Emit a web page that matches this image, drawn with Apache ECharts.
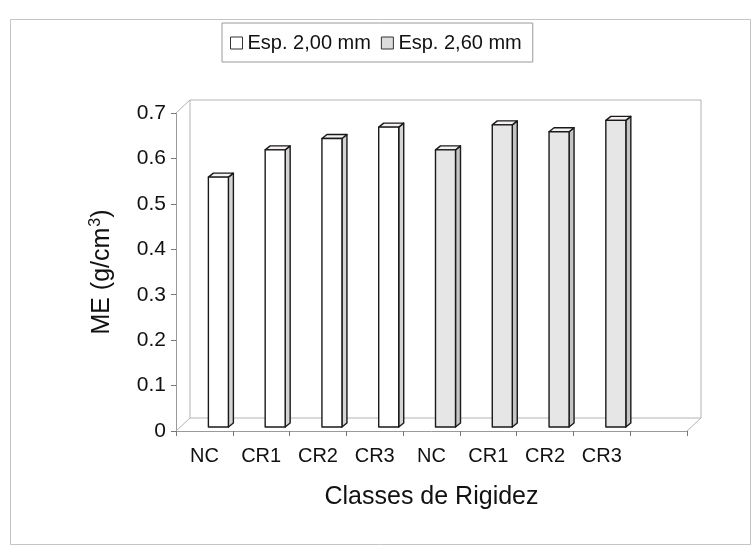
<!DOCTYPE html>
<html>
<head>
<meta charset="utf-8">
<script src="https://cdn.jsdelivr.net/npm/echarts@6/dist/echarts.min.js"></script>
<style>html,body{margin:0;padding:0;background:#fff}#c{width:753px;height:546px}</style>
</head>
<body>
<div id="c"></div>
<script>
const categories = ['NC', 'CR1', 'CR2', 'CR3', 'NC', 'CR1', 'CR2', 'CR3'];
const esp200 = [0.55, 0.61, 0.635, 0.66];
const esp260 = [0.61, 0.665, 0.65, 0.675];
const yTicks = [0, 0.1, 0.2, 0.3, 0.4, 0.5, 0.6, 0.7];
const seriesNames = ['Esp. 2,00 mm', 'Esp. 2,60 mm'];

const FONT = '"Liberation Sans", Arial, sans-serif';
const DX = 14, DY = -13; // wall depth offset

const axisCats = categories.concat(['']);
const data1 = esp200.map((v, i) => [i, v]);
const data2 = esp260.map((v, i) => [i + esp200.length, v]);

function barRender(front, side) {
  return function (params, api) {
    const base = api.coord([api.value(0), 0]);
    const top = api.coord([api.value(0), api.value(1)]);
    const ox = 14, oy = -4, w = 20, d = 5, dd = -4;
    const x = base[0] + ox - w / 2;
    const y = top[1] + oy;
    const h = base[1] - top[1];
    const st = { stroke: '#1a1a1a', lineWidth: 1.4, lineJoin: 'round' };
    return {
      type: 'group',
      children: [
        { type: 'polygon', shape: { points: [[x + w, y], [x + w + d, y + dd], [x + w + d, y + h + dd], [x + w, y + h]] },
          style: Object.assign({ fill: side }, st) },
        { type: 'polygon', shape: { points: [[x, y], [x + d, y + dd], [x + w + d, y + dd], [x + w, y]] },
          style: Object.assign({ fill: '#f6f2f4' }, st) },
        { type: 'rect', shape: { x: x, y: y, width: w, height: h },
          style: Object.assign({ fill: front }, st) }
      ]
    };
  };
}

function wallRender(params, api) {
  const c = params.coordSys;
  const x = c.x, y = c.y, w = c.width, h = c.height;
  const st = { fill: 'none', stroke: '#b4b4b4', lineWidth: 1 };
  return {
    type: 'group',
    children: [
      { type: 'polyline', shape: { points: [[x, y + h], [x + DX, y + h + DY], [x + w + DX, y + h + DY], [x + w, y + h]] }, style: st },
      { type: 'polyline', shape: { points: [[x, y], [x + DX, y + DY], [x + DX, y + h + DY]] }, style: st },
      { type: 'polyline', shape: { points: [[x + DX, y + DY], [x + w + DX, y + DY], [x + w + DX, y + h + DY]] }, style: st }
    ]
  };
}

const chart = echarts.init(document.getElementById('c'));
chart.setOption({
  backgroundColor: '#fff',
  animation: false,
  textStyle: { fontFamily: FONT, color: '#111' },
  graphic: [{
    type: 'rect', left: 8, top: 17, shape: { width: 740, height: 525 },
    style: { fill: 'none', stroke: '#c4c4c4', lineWidth: 1 }, z: -1
  }],
  legend: {
    left: 222, top: 23,
    orient: 'horizontal',
    padding: [10, 11, 9, 8],
    itemGap: 10,
    itemWidth: 12, itemHeight: 12,
    borderColor: '#9a9a9a', borderWidth: 1,
    icon: 'rect',
    textStyle: { fontFamily: FONT, fontSize: 20, color: '#111' },
    data: [
      { name: seriesNames[0], itemStyle: { color: '#ffffff', borderColor: '#333', borderWidth: 1 } },
      { name: seriesNames[1], itemStyle: { color: '#dcdcdc', borderColor: '#333', borderWidth: 1 } }
    ]
  },
  grid: { left: 176, top: 113, width: 511, height: 318, containLabel: false },
  xAxis: {
    type: 'category',
    data: axisCats,
    boundaryGap: true,
    axisLine: { lineStyle: { color: '#9a9a9a', width: 1 } },
    axisTick: { show: true, length: 5, lineStyle: { color: '#777' } },
    axisLabel: { fontFamily: FONT, fontSize: 20, color: '#111', margin: 15, interval: 0 },
    name: 'Classes de Rigidez',
    nameLocation: 'middle',
    nameGap: 54,
    nameTextStyle: { fontFamily: FONT, fontSize: 25, color: '#111' },
    splitLine: { show: false }
  },
  yAxis: {
    type: 'value',
    min: yTicks[0], max: yTicks[yTicks.length - 1], interval: 0.1,
    axisLine: { show: true, lineStyle: { color: '#9a9a9a', width: 1 } },
    axisTick: { show: true, length: 5, lineStyle: { color: '#777' } },
    axisLabel: { fontFamily: FONT, fontSize: 21, color: '#111', margin: 10,
      formatter: v => (Math.round(v * 10) / 10).toString() },
    splitLine: { show: false },
    name: 'ME (g/cm{sup|3})',
    nameLocation: 'middle',
    nameGap: 60,
    nameRotate: 90,
    nameTextStyle: {
      fontFamily: FONT, fontSize: 25, color: '#111',
      rich: { sup: { fontFamily: FONT, fontSize: 16, color: '#111', verticalAlign: 'top', padding: [0, 0, 12, 1] } }
    }
  },
  series: [
    {
      type: 'custom', name: 'walls', silent: true, clip: false, z: 1,
      renderItem: wallRender, data: [[0, 0]]
    },
    {
      type: 'custom', name: seriesNames[0], clip: false, z: 2,
      itemStyle: { color: '#ffffff' },
      renderItem: barRender('#ffffff', '#d4d4d4'),
      encode: { x: 0, y: 1 },
      data: data1
    },
    {
      type: 'custom', name: seriesNames[1], clip: false, z: 2,
      itemStyle: { color: '#dcdcdc' },
      renderItem: barRender('#e6e6e6', '#c4c4c4'),
      encode: { x: 0, y: 1 },
      data: data2
    }
  ]
});
</script>
</body>
</html>
